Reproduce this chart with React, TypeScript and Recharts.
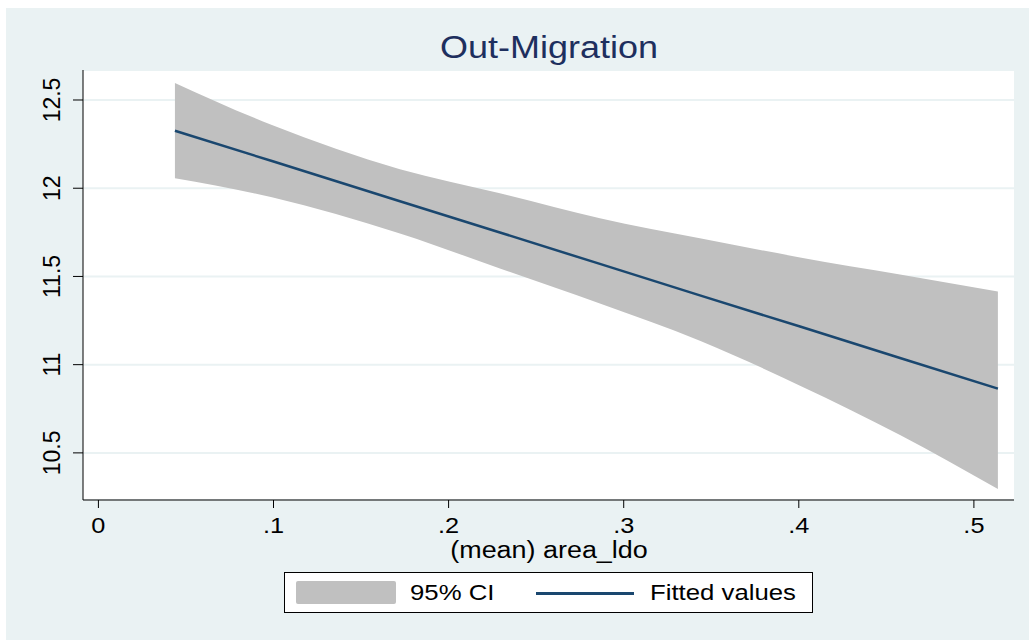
import React from "react";
import {
  ComposedChart,
  Area,
  Line,
  XAxis,
  YAxis,
  CartesianGrid,
} from "recharts";

// values
const xValues = [0.0437, 0.0991, 0.1722, 0.2293, 0.2864, 0.3435, 0.4007, 0.4578, 0.5137];
const fitted = [12.326, 12.154, 11.926, 11.749, 11.571, 11.393, 11.216, 11.038, 10.864];
const ciUpper = [12.597, 12.358, 12.108, 11.972, 11.83, 11.716, 11.608, 11.511, 11.415];
const ciLower = [12.057, 11.949, 11.744, 11.545, 11.347, 11.136, 10.881, 10.602, 10.295];
const xTicks = [0, 0.1, 0.2, 0.3, 0.4, 0.5];
const yTicks = [10.5, 11, 11.5, 12, 12.5];

const BG = "#EAF2F3";
const NAVY = "#1A476F";
const BAND = "#C0C0C0";
const FONT = "'Liberation Sans', Arial, sans-serif";

const data = xValues.map((x, i) => ({
  x,
  fit: fitted[i],
  ci: [ciLower[i], ciUpper[i]],
}));

const fmtX = (v: number) => (v === 0 ? "0" : String(v).replace(/^0/, ""));

const YTick = (props: any) => {
  const { x, y, payload } = props;
  return (
    <text
      transform={`translate(${x - 19}, ${y}) rotate(-90)`}
      textAnchor="middle"
      dominantBaseline="central"
      fontSize={23}
      fontFamily={FONT}
      fill="#000"
    >
      {payload.value}
    </text>
  );
};

const XTick = (props: any) => {
  const { x, y, payload } = props;
  return (
    <text
      transform={`translate(${x}, ${y + 16}) scale(1.15, 1)`}
      textAnchor="middle"
      dominantBaseline="central"
      fontSize={22}
      fontFamily={FONT}
      fill="#000"
    >
      {fmtX(payload.value)}
    </text>
  );
};

export default function App() {
  return (
    <div
      style={{
        position: "absolute",
        left: 6,
        top: 8,
        width: 1023,
        height: 632,
        background: BG,
        fontFamily: FONT,
      }}
    >
      <div
        style={{
          position: "absolute",
          left: 543,
          top: 22,
          fontSize: 31,
          lineHeight: "36px",
          color: "#1E2F5E",
          whiteSpace: "nowrap",
          transform: "translateX(-50%) scaleX(1.16)",
        }}
      >
        Out-Migration
      </div>

      <ComposedChart
        width={1023}
        height={632}
        data={data}
        margin={{ top: 62, right: 15, bottom: 100, left: 30 }}
      >
        <CartesianGrid
          vertical={false}
          horizontal
          fill="#FFFFFF"
          stroke={BG}
          strokeWidth={2}
        />
        <XAxis
          dataKey="x"
          type="number"
          domain={[-0.0088, 0.5229]}
          ticks={xTicks}
          allowDataOverflow
          height={40}
          tickSize={8}
          tickMargin={2}
          axisLine={{ stroke: "#000", strokeWidth: 1 }}
          tickLine={{ stroke: "#000", strokeWidth: 1 }}
          tick={<XTick />}
        />
        <YAxis
          type="number"
          domain={[10.233, 12.67]}
          ticks={yTicks}
          allowDataOverflow
          width={47}
          tickSize={10}
          tickMargin={2}
          axisLine={{ stroke: "#000", strokeWidth: 1 }}
          tickLine={{ stroke: "#000", strokeWidth: 1 }}
          tick={<YTick />}
        />
        <Area
          type="monotone"
          dataKey="ci"
          name="95% CI"
          fill={BAND}
          fillOpacity={1}
          stroke="none"
          isAnimationActive={false}
        />
        <Line
          type="linear"
          dataKey="fit"
          name="Fitted values"
          stroke={NAVY}
          strokeWidth={2.5}
          dot={false}
          isAnimationActive={false}
        />
      </ComposedChart>

      <div
        style={{
          position: "absolute",
          left: 543,
          top: 532,
          fontSize: 23,
          lineHeight: "20px",
          color: "#000",
          whiteSpace: "nowrap",
          transform: "translateX(-50%) scaleX(1.17)",
        }}
      >
        (mean) area_ldo
      </div>

      {/* legend */}
      <div
        style={{
          position: "absolute",
          left: 278,
          top: 564,
          width: 527,
          height: 39,
          background: "#FFFFFF",
          border: "1px solid #000",
        }}
      >
        <div
          style={{
            position: "absolute",
            left: 11,
            top: 8,
            width: 100,
            height: 23,
            background: BAND,
            borderRadius: 2,
          }}
        />
        <div
          style={{
            position: "absolute",
            left: 125,
            top: 7,
            fontSize: 22,
            lineHeight: "26px",
            whiteSpace: "nowrap",
            transform: "scaleX(1.17)",
            transformOrigin: "0 50%",
          }}
        >
          95% CI
        </div>
        <div
          style={{
            position: "absolute",
            left: 251,
            top: 19,
            width: 98,
            height: 2.5,
            background: NAVY,
          }}
        />
        <div
          style={{
            position: "absolute",
            left: 365,
            top: 7,
            fontSize: 22,
            lineHeight: "26px",
            whiteSpace: "nowrap",
            transform: "scaleX(1.17)",
            transformOrigin: "0 50%",
          }}
        >
          Fitted values
        </div>
      </div>
    </div>
  );
}
